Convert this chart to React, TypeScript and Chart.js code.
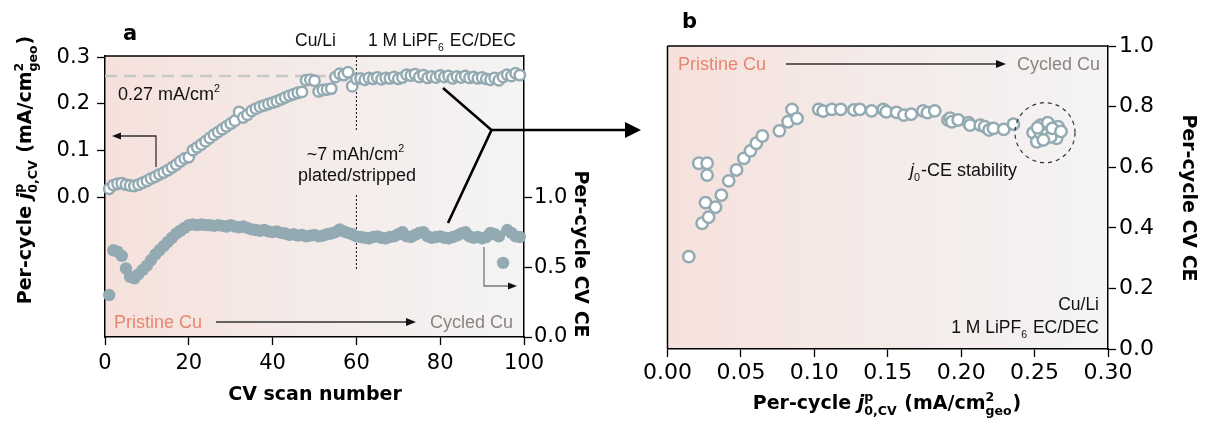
import React, { useEffect, useRef } from 'react';
import { Chart, registerables } from 'chart.js';
Chart.register(...registerables);

// ---------- DATA ----------
const cycles = Array.from({ length: 99 }, (_, i) => i + 1);
const j0PerCycle = [
  0.018, 0.026, 0.029, 0.030, 0.027, 0.025, 0.024, 0.027, 0.031, 0.035,
  0.040, 0.044, 0.049, 0.053, 0.058, 0.064, 0.070, 0.077, 0.083, 0.086,
  0.101, 0.107, 0.113, 0.120, 0.127, 0.134, 0.140, 0.146, 0.152, 0.158,
  0.164, 0.183, 0.171, 0.177, 0.185, 0.190, 0.194, 0.197, 0.200, 0.203,
  0.206, 0.210, 0.214, 0.218, 0.221, 0.224, 0.226, 0.251, 0.252, 0.250,
  0.227, 0.230, 0.231, 0.233, 0.258, 0.265, 0.262, 0.268, 0.238, 0.254,
  0.255, 0.252, 0.256, 0.254, 0.257, 0.253, 0.256, 0.255, 0.258, 0.254,
  0.257, 0.263, 0.261, 0.264, 0.258, 0.262, 0.256, 0.259, 0.257, 0.261,
  0.258, 0.260, 0.255, 0.259, 0.257, 0.260, 0.256, 0.258, 0.255, 0.257,
  0.254, 0.252, 0.256, 0.251, 0.258, 0.263, 0.260, 0.266, 0.262,
];
const cePerCycle = [
  0.30, 0.62, 0.61, 0.58, 0.49, 0.43, 0.42, 0.45, 0.48, 0.51,
  0.55, 0.59, 0.62, 0.65, 0.68, 0.71, 0.74, 0.76, 0.78, 0.80,
  0.805, 0.80, 0.805, 0.80, 0.80, 0.795, 0.80, 0.795, 0.79, 0.80,
  0.79, 0.785, 0.79, 0.78, 0.77, 0.765, 0.76, 0.765, 0.755, 0.75,
  0.755, 0.745, 0.74, 0.73, 0.735, 0.725, 0.73, 0.72, 0.725, 0.73,
  0.72, 0.725, 0.735, 0.74, 0.75, 0.77, 0.755, 0.745, 0.735, 0.72,
  0.715, 0.71, 0.705, 0.715, 0.72, 0.71, 0.705, 0.715, 0.72, 0.735,
  0.75, 0.72, 0.715, 0.73, 0.745, 0.75, 0.72, 0.71, 0.715, 0.72,
  0.71, 0.705, 0.715, 0.725, 0.74, 0.75, 0.72, 0.71, 0.715, 0.705,
  0.715, 0.745, 0.735, 0.72, 0.53, 0.765, 0.745, 0.72, 0.715,
];
const refJ0 = 0.26;

const bJ0 = [
  0.0145, 0.0236, 0.028, 0.0259, 0.0327, 0.0213, 0.027, 0.027, 0.0367, 0.0417,
  0.047, 0.052, 0.0565, 0.0605, 0.0646, 0.0762, 0.0821, 0.0848, 0.0882, 0.103,
  0.106, 0.112, 0.118, 0.127, 0.131, 0.139, 0.147, 0.149, 0.156, 0.161,
  0.166, 0.174, 0.177, 0.182, 0.191, 0.1925, 0.1937, 0.198, 0.205, 0.206,
  0.213, 0.216, 0.219, 0.222, 0.229, 0.2356, 0.249, 0.2515, 0.254, 0.258,
  0.254, 0.259, 0.263, 0.265, 0.266, 0.261, 0.256, 0.262, 0.268, 0.252,
];
const bCE = [
  0.305, 0.415, 0.435, 0.483, 0.468, 0.613, 0.613, 0.574, 0.508, 0.555,
  0.591, 0.629, 0.654, 0.679, 0.703, 0.720, 0.750, 0.791, 0.761, 0.791,
  0.785, 0.791, 0.791, 0.789, 0.791, 0.786, 0.791, 0.783, 0.781, 0.772,
  0.775, 0.786, 0.780, 0.786, 0.756, 0.762, 0.750, 0.756, 0.747, 0.739,
  0.739, 0.734, 0.723, 0.728, 0.725, 0.742, 0.714, 0.684, 0.712, 0.723,
  0.739, 0.747, 0.712, 0.695, 0.734, 0.700, 0.690, 0.728, 0.718, 0.730,
];

const aXTicks = [0, 20, 40, 60, 80, 100];
const aLeftTicks = [0, 0.1, 0.2, 0.3];
const aRightTicks = [0, 0.5, 1.0];
const bXTicks = [0, 0.05, 0.1, 0.15, 0.2, 0.25, 0.3];
const bYTicks = [0, 0.2, 0.4, 0.6, 0.8, 1.0];

// ---------- STYLE ----------
const TEAL = '#93AAB2';
const SALMON = '#E8856E';
const CYCLED = '#8E8282';
const DV = "'DejaVu Sans'";
const LS = "'Liberation Sans', Arial";
const B_OFF = 640;

type Part = { t?: string; it?: boolean; sup?: string; sub?: string };

function drawRich(
  ctx: CanvasRenderingContext2D,
  parts: Part[],
  x: number,
  y: number,
  o: { size: number; family: string; weight?: string; color: string; align?: string; rot?: number; small?: number }
) {
  const size = o.size;
  const small = size * (o.small || 0.66);
  const w = o.weight || 'normal';
  const f = (sz: number, it?: boolean) => `${it ? 'italic ' : ''}${w} ${sz}px ${o.family}`;
  const widths = parts.map((p) => {
    if (p.t !== undefined) {
      ctx.font = f(size, p.it);
      return ctx.measureText(p.t).width;
    }
    ctx.font = f(small);
    let m = 0;
    if (p.sup) m = Math.max(m, ctx.measureText(p.sup).width);
    if (p.sub) m = Math.max(m, ctx.measureText(p.sub).width);
    return m + 1;
  });
  const total = widths.reduce((a, b) => a + b, 0);
  ctx.save();
  ctx.translate(x, y);
  if (o.rot) ctx.rotate(o.rot);
  let cx = o.align === 'center' ? -total / 2 : o.align === 'right' ? -total : 0;
  ctx.fillStyle = o.color;
  ctx.textAlign = 'left';
  ctx.textBaseline = 'alphabetic';
  parts.forEach((p, k) => {
    if (p.t !== undefined) {
      ctx.font = f(size, p.it);
      ctx.fillText(p.t, cx, 0);
    } else {
      ctx.font = f(small);
      if (p.sup) ctx.fillText(p.sup, cx, -size * 0.42);
      if (p.sub) ctx.fillText(p.sub, cx, size * 0.3);
    }
    cx += widths[k];
  });
  ctx.restore();
}

function arrowHead(ctx: CanvasRenderingContext2D, tx: number, ty: number, dir: number, len: number, hw: number, color: string) {
  ctx.save();
  ctx.fillStyle = color;
  ctx.beginPath();
  ctx.moveTo(tx, ty);
  ctx.lineTo(tx - dir * len, ty - hw);
  ctx.lineTo(tx - dir * len, ty + hw);
  ctx.closePath();
  ctx.fill();
  ctx.restore();
}

function line(ctx: CanvasRenderingContext2D, pts: number[][], color: string, width: number, dash?: number[]) {
  ctx.save();
  ctx.strokeStyle = color;
  ctx.lineWidth = width;
  ctx.setLineDash(dash || []);
  ctx.beginPath();
  pts.forEach((p, i) => (i === 0 ? ctx.moveTo(p[0], p[1]) : ctx.lineTo(p[0], p[1])));
  ctx.stroke();
  ctx.restore();
}

const jTitle: Part[] = [
  { t: 'Per-cycle ' },
  { t: 'j', it: true },
  { sup: 'p', sub: '0,CV' },
  { t: ' (mA/cm' },
  { sup: '2', sub: 'geo' },
  { t: ')' },
];

const bgPlugin = {
  id: 'bg',
  beforeDraw(chart: any) {
    const { ctx, chartArea } = chart;
    const { left, right, top, bottom } = chartArea;
    const g = ctx.createLinearGradient(left, 0, right, 0);
    g.addColorStop(0, '#F6E1DC');
    g.addColorStop(0.5, '#F4EBE9');
    g.addColorStop(1, '#F4F4F4');
    ctx.save();
    ctx.fillStyle = g;
    ctx.fillRect(left, top, right - left, bottom - top);
    ctx.restore();
  },
};

const annotA = {
  id: 'annotA',
  beforeDatasetsDraw(chart: any) {
    const ctx = chart.ctx as CanvasRenderingContext2D;
    const { left } = chart.chartArea;
    const xs = chart.scales.x;
    const ys = chart.scales.y;
    const yr = ys.getPixelForValue(refJ0);
    line(ctx, [[left, yr], [xs.getPixelForValue(62), yr]], '#C8C8C8', 2.5, [12, 7]);
    const x60 = xs.getPixelForValue(60);
    line(ctx, [[x60, 56], [x60, 130]], '#111', 1, [2, 2]);
    line(ctx, [[x60, 195], [x60, 270]], '#111', 1, [2, 2]);
  },
  afterDraw(chart: any) {
    const ctx = chart.ctx as CanvasRenderingContext2D;
    const { left, right, top } = chart.chartArea;
    line(ctx, [[left, top], [right, top]], '#000', 1.5);
    // texts
    drawRich(ctx, [{ t: 'a' }], 123, 40, { size: 21, family: DV, weight: 'bold', color: '#000' });
    drawRich(ctx, [{ t: 'Cu/Li' }], 295, 46, { size: 17.5, family: LS, color: '#111' });
    drawRich(ctx, [{ t: '1 M LiPF' }, { sub: '6' }, { t: ' EC/DEC' }], 368, 46, { size: 17.5, family: LS, color: '#111', small: 0.6 });
    drawRich(ctx, [{ t: '0.27 mA/cm' }, { sup: '2' }], 118, 100, { size: 18, family: LS, color: '#111', small: 0.6 });
    drawRich(ctx, [{ t: '~7 mAh/cm' }, { sup: '2' }], 356, 160, { size: 18, family: LS, color: '#111', align: 'center', small: 0.6 });
    drawRich(ctx, [{ t: 'plated/stripped' }], 357, 181, { size: 18, family: LS, color: '#111', align: 'center' });
    drawRich(ctx, [{ t: 'Pristine Cu' }], 114, 328, { size: 18, family: LS, color: SALMON });
    drawRich(ctx, [{ t: 'Cycled Cu' }], 513, 328, { size: 18, family: LS, color: CYCLED, align: 'right' });
    line(ctx, [[216, 322], [407, 322]], '#333', 1.3);
    arrowHead(ctx, 416, 322, 1, 10, 4, '#111');
    // left arrow
    line(ctx, [[156, 167], [156, 136], [119, 136]], '#333', 1.3);
    arrowHead(ctx, 112, 136, -1, 9, 3.5, '#111');
    // right arrow (CE)
    line(ctx, [[484, 247], [484, 286], [509, 286]], '#777', 1.3);
    arrowHead(ctx, 517, 286, 1, 9, 3.5, '#111');
    // tree arrow to panel b
    line(ctx, [[443, 88], [491.5, 130], [448, 223]], '#000', 2.6);
    line(ctx, [[491.5, 130], [626, 130]], '#000', 2.6);
    arrowHead(ctx, 641, 130, 1, 16, 8, '#000');
    // axis titles
    drawRich(ctx, [{ t: 'CV scan number' }], 315, 400, { size: 19, family: DV, weight: 'bold', color: '#000', align: 'center' });
    drawRich(ctx, jTitle, 31, 170, { size: 19, family: DV, weight: 'bold', color: '#000', align: 'center', rot: -Math.PI / 2 });
    drawRich(ctx, [{ t: 'Per-cycle CV CE' }], 575, 254, { size: 19, family: DV, weight: 'bold', color: '#000', align: 'center', rot: Math.PI / 2 });
  },
};

const annotB = {
  id: 'annotB',
  afterDraw(chart: any) {
    const ctx = chart.ctx as CanvasRenderingContext2D;
    const { left, right, top, bottom } = chart.chartArea;
    line(ctx, [[left, top], [right, top]], '#000', 1.5);
    line(ctx, [[left, top], [left, bottom]], '#000', 1.5);
    ctx.save();
    ctx.translate(-B_OFF, 0);
    drawRich(ctx, [{ t: 'b' }], 682, 28, { size: 21, family: DV, weight: 'bold', color: '#000' });
    drawRich(ctx, [{ t: 'Pristine Cu' }], 678, 70, { size: 18, family: LS, color: SALMON });
    drawRich(ctx, [{ t: 'Cycled Cu' }], 1100, 70, { size: 18, family: LS, color: CYCLED, align: 'right' });
    line(ctx, [[786, 64], [997, 64]], '#333', 1.3);
    arrowHead(ctx, 1006, 64, 1, 10, 4, '#111');
    drawRich(ctx, [{ t: 'j', it: true }, { sub: '0' }, { t: '-CE stability' }], 910, 176, { size: 18, family: LS, color: '#111', small: 0.6 });
    ctx.save();
    ctx.strokeStyle = '#333';
    ctx.lineWidth = 1.2;
    ctx.setLineDash([4, 4]);
    ctx.beginPath();
    ctx.arc(1045, 132.7, 30, 0, Math.PI * 2);
    ctx.stroke();
    ctx.restore();
    drawRich(ctx, [{ t: 'Cu/Li' }], 1099, 310, { size: 17.5, family: LS, color: '#111', align: 'right' });
    drawRich(ctx, [{ t: '1 M LiPF' }, { sub: '6' }, { t: ' EC/DEC' }], 1099, 333, { size: 17.5, family: LS, color: '#111', align: 'right', small: 0.6 });
    drawRich(ctx, jTitle, 887, 409, { size: 19, family: DV, weight: 'bold', color: '#000', align: 'center' });
    drawRich(ctx, [{ t: 'Per-cycle CV CE' }], 1183, 198, { size: 19, family: DV, weight: 'bold', color: '#000', align: 'center', rot: Math.PI / 2 });
    ctx.restore();
  },
};

const tickGrid = { display: true, drawOnChartArea: false, drawTicks: true, tickLength: 8, tickWidth: 1.3, tickColor: '#000' };
const axBorder = { display: true, color: '#000', width: 1.5 };

export default function App() {
  const refA = useRef<HTMLCanvasElement>(null);
  const refB = useRef<HTMLCanvasElement>(null);
  useEffect(() => {
    const chartA = new Chart(refA.current as HTMLCanvasElement, {
      type: 'scatter',
      data: {
        datasets: [
          {
            label: 'j0',
            data: cycles.map((c, i) => ({ x: c, y: j0PerCycle[i] })),
            yAxisID: 'y',
            backgroundColor: '#FFFFFF',
            borderColor: TEAL,
            borderWidth: 2.5,
            pointRadius: 5.2,
            clip: false as any,
          },
          {
            label: 'CE',
            data: cycles.map((c, i) => ({ x: c, y: cePerCycle[i] })),
            yAxisID: 'y1',
            backgroundColor: TEAL,
            borderColor: TEAL,
            borderWidth: 0,
            pointRadius: 6.2,
            clip: false as any,
          },
        ],
      },
      options: {
        responsive: false,
        animation: false,
        events: [],
        layout: { padding: { left: 0, right: 56, top: 56, bottom: 34 } },
        plugins: { legend: { display: false }, tooltip: { enabled: false } },
        scales: {
          x: {
            type: 'linear', position: 'bottom', min: 0, max: 100,
            afterBuildTicks: (s: any) => { s.ticks = aXTicks.map((v) => ({ value: v })); },
            afterFit: (s: any) => { s.height = 50; },
            grid: tickGrid as any, border: axBorder as any,
            ticks: { font: { family: DV, size: 21 }, color: '#000', padding: 6, maxRotation: 0, autoSkip: false },
          },
          y: {
            type: 'linear', position: 'left', min: -0.3, max: 0.303,
            afterBuildTicks: (s: any) => { s.ticks = aLeftTicks.map((v) => ({ value: v })); },
            afterFit: (s: any) => { s.width = 105; },
            grid: tickGrid as any, border: axBorder as any,
            ticks: { font: { family: DV, size: 21 }, color: '#000', padding: 7, autoSkip: false, callback: (v: any) => Number(v).toFixed(1) },
          },
          y1: {
            type: 'linear', position: 'right', min: 0, max: 2.01,
            afterBuildTicks: (s: any) => { s.ticks = aRightTicks.map((v) => ({ value: v })); },
            afterFit: (s: any) => { s.width = 80; },
            grid: tickGrid as any, border: axBorder as any,
            ticks: { font: { family: DV, size: 21 }, color: '#000', padding: 2, autoSkip: false, callback: (v: any) => Number(v).toFixed(1) },
          },
        },
      },
      plugins: [bgPlugin, annotA],
    });
    const chartB = new Chart(refB.current as HTMLCanvasElement, {
      type: 'scatter',
      data: {
        datasets: [
          {
            label: 'j0-CE',
            data: bJ0.map((v, i) => ({ x: v, y: bCE[i] })),
            backgroundColor: '#FFFFFF',
            borderColor: TEAL,
            borderWidth: 2.5,
            pointRadius: 5.7,
            clip: false as any,
          },
        ],
      },
      options: {
        responsive: false,
        animation: false,
        events: [],
        layout: { padding: { left: 27, right: 0, top: 46, bottom: 0 } },
        plugins: { legend: { display: false }, tooltip: { enabled: false } },
        scales: {
          x: {
            type: 'linear', position: 'bottom', min: 0, max: 0.3,
            afterBuildTicks: (s: any) => { s.ticks = bXTicks.map((v) => ({ value: v })); },
            afterFit: (s: any) => { s.height = 72; },
            grid: tickGrid as any, border: axBorder as any,
            ticks: { font: { family: DV, size: 22 }, color: '#000', padding: 3, maxRotation: 0, autoSkip: false, callback: (v: any) => Number(v).toFixed(2) },
          },
          y: {
            type: 'linear', position: 'right', min: 0, max: 1.0,
            afterBuildTicks: (s: any) => { s.ticks = bYTicks.map((v) => ({ value: v })); },
            afterFit: (s: any) => { s.width = 101; },
            grid: tickGrid as any, border: axBorder as any,
            ticks: { font: { family: DV, size: 22 }, color: '#000', padding: 3, autoSkip: false, callback: (v: any) => Number(v).toFixed(1) },
          },
        },
      },
      plugins: [bgPlugin, annotB],
    });
    return () => {
      chartA.destroy();
      chartB.destroy();
    };
  }, []);
  return (
    <div style={{ position: 'absolute', left: 0, top: 0, width: 1209, height: 421, background: '#fff' }}>
      <canvas ref={refA} width={660} height={421} style={{ position: 'absolute', left: 0, top: 0, width: 660, height: 421 }} />
      <canvas ref={refB} width={569} height={421} style={{ position: 'absolute', left: B_OFF, top: 0, width: 569, height: 421 }} />
    </div>
  );
}
